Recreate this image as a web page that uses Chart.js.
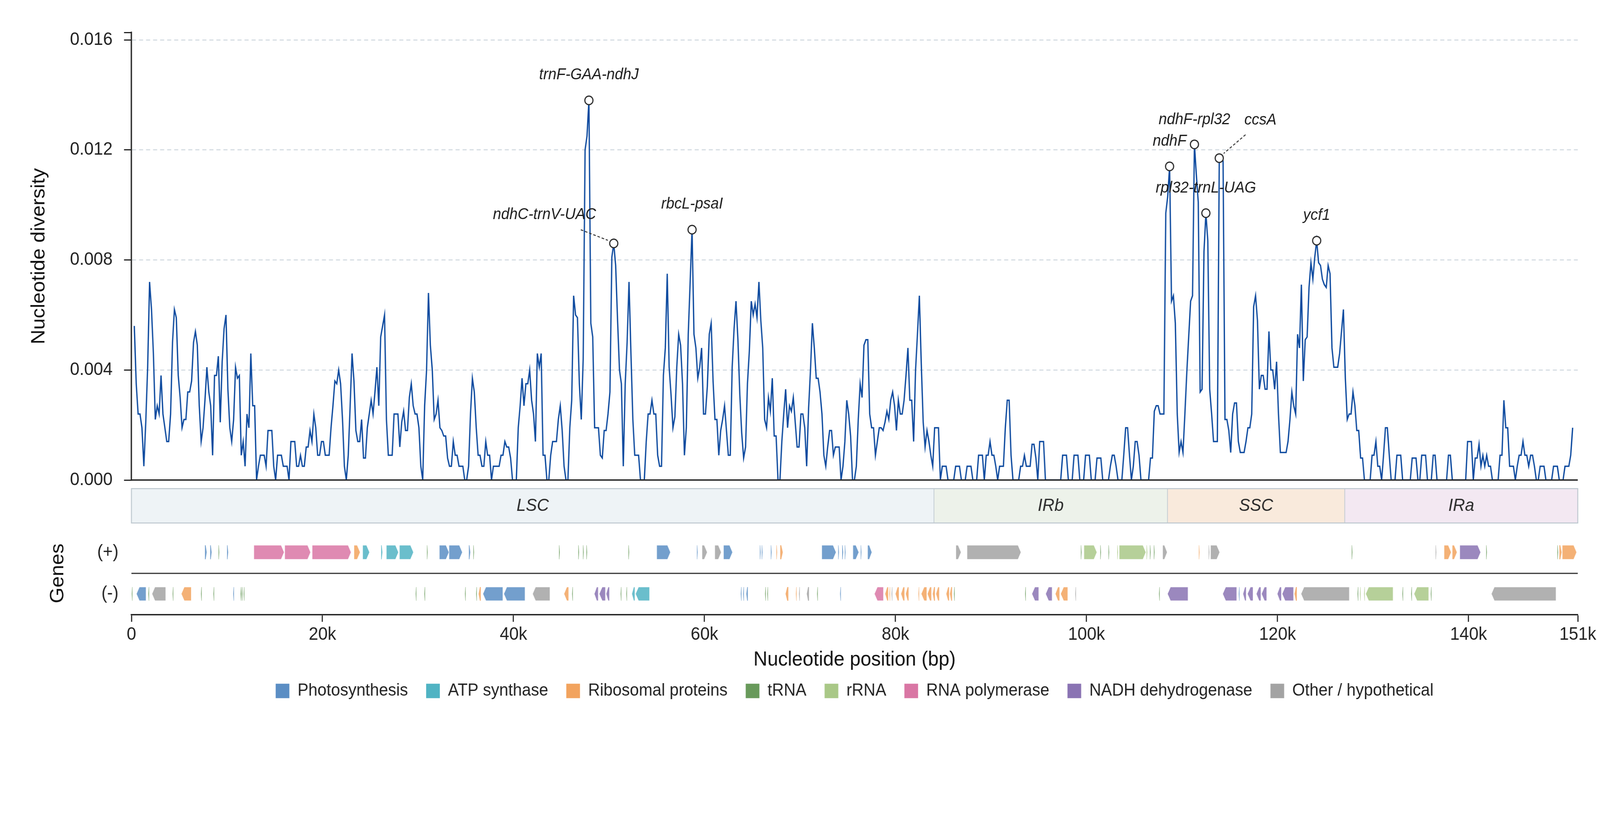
<!DOCTYPE html>
<html>
<head>
<meta charset="utf-8">
<title>Nucleotide diversity</title>
<style>
  html, body { margin: 0; padding: 0; background: #fff; overflow: hidden; }
</style>
<script src="https://cdn.jsdelivr.net/npm/chart.js@4.4.1/dist/chart.umd.min.js"></script>
</head>
<body>
<canvas id="chart" width="4322" height="2102" style="display:block;width:100vw;height:100vh"></canvas>
<script>
const FONT = "'Liberation Sans', Arial, Helvetica, sans-serif";
Chart.defaults.font.family = FONT;
Chart.defaults.color = '#222';

// sliding window: 600 bp window, 200 bp step, first midpoint at 300 bp
const windowMid0 = 300;
const windowStep = 200;

// nucleotide diversity (Pi) per window
const diversity = [
  .0056,.0035,.0024,.0024,.0019,.0005,.0021,.0041,.0072,.0062,
  .0046,.0022,.0027,.0024,.0038,.0024,.0019,.0014,.0014,.0024,
  .0050,.0062,.0059,.0038,.0030,.0019,.0022,.0022,.0032,.0032,
  .0036,.0050,.0054,.0049,.0027,.0014,.0019,.0029,.0041,.0032,
  .0027,.0009,.0038,.0038,.0045,.0021,.0043,.0055,.0060,.0033,
  .0019,.0014,.0022,.0041,.0037,.0038,.0009,.0014,.0005,.0024,
  .0019,.0046,.0027,.0027,0,.0005,.0009,.0009,.0009,.0005,
  .0018,.0018,.0018,.0005,0,.0009,.0009,.0009,.0005,.0005,
  .0005,0,.0014,.0014,.0014,.0005,.0005,.0009,.0005,.0005,
  .0012,.0012,.0018,.0014,.0024,.0019,.0009,.0009,.0014,.0014,
  .0009,.0009,.0009,.0019,.0027,.0036,.0035,.0040,.0035,.0022,
  .0005,0,.0009,.0027,.0046,.0036,.0018,.0014,.0014,.0022,
  .0008,.0008,.0019,.0024,.0029,.0024,.0032,.0041,.0027,.0052,
  .0056,.0060,.0022,.0009,.0009,.0009,.0024,.0024,.0024,.0012,
  .0021,.0025,.0018,.0018,.0030,.0035,.0027,.0024,.0024,.0019,
  .0005,0,.0027,.0040,.0068,.0049,.0040,.0022,.0024,.0029,
  .0019,.0018,.0016,.0016,.0008,.0005,.0005,.0014,.0009,.0009,
  .0005,.0005,.0005,0,0,.0005,.0024,.0037,.0032,.0019,
  .0009,.0009,.0005,.0005,.0014,.0009,.0009,0,.0005,.0005,
  .0005,.0005,.0009,.0009,.0014,.0012,.0012,.0008,0,0,
  0,.0019,.0027,.0037,.0027,.0035,.0035,.0040,.0029,.0024,
  .0014,.0046,.0041,.0046,.0009,.0009,0,0,.0009,.0014,
  .0014,.0014,.0022,.0027,.0018,.0005,0,0,.0019,.0029,
  .0067,.0060,.0059,.0035,.0022,.0044,.0120,.0125,.0138,.0057,
  .0052,.0019,.0019,.0019,.0009,.0008,.0018,.0018,.0024,.0032,
  .0081,.0086,.0078,.0058,.0040,.0035,.0005,.0035,.0050,.0072,
  .0046,.0022,.0009,.0009,.0009,0,0,0,.0014,.0024,
  .0024,.0029,.0024,.0024,.0009,.0005,.0005,.0038,.0048,.0075,
  .0041,.0031,.0019,.0023,.0041,.0053,.0049,.0035,.0009,.0019,
  .0053,.0072,.0091,.0053,.0048,.0037,.0041,.0048,.0024,.0024,
  .0034,.0053,.0057,.0036,.0022,.0022,.0009,.0018,.0022,.0027,
  .0018,.0009,.0009,.0041,.0055,.0065,.0051,.0031,.0017,.0008,
  .0012,.0035,.0047,.0065,.0060,.0064,.0059,.0072,.0058,.0048,
  .0022,.0019,.0030,.0025,.0037,.0016,.0016,0,0,.0014,
  .0024,.0033,.0019,.0027,.0025,.0030,.0021,.0012,.0012,.0024,
  .0024,.0019,.0005,.0026,.0040,.0057,.0048,.0037,.0037,.0032,
  .0024,.0009,.0005,.0012,.0018,.0018,.0009,.0012,.0012,.0012,
  0,.0005,.0014,.0029,.0024,.0016,0,0,.0005,.0022,
  .0035,.0030,.0049,.0051,.0051,.0024,.0019,.0019,.0009,.0014,
  .0019,.0019,.0018,.0021,.0025,.0022,.0029,.0032,.0027,.0018,
  .0029,.0024,.0024,.0029,.0038,.0048,.0029,.0029,.0014,.0040,
  .0053,.0067,.0042,.0021,.0012,.0018,.0014,.0009,.0005,.0019,
  .0019,.0019,0,.0005,.0005,.0005,0,0,0,0,
  .0005,.0005,.0005,0,0,0,.0005,.0005,.0005,0,
  0,0,.0009,.0009,.0009,0,.0009,.0009,.0014,.0009,
  .0009,.0005,0,.0005,.0005,.0005,.0019,.0029,.0029,.0009,
  0,0,0,0,.0005,.0005,.0009,.0005,.0005,.0005,
  .0013,.0013,.0008,0,.0014,.0014,.0014,0,0,0,
  0,0,0,0,0,0,.0009,.0009,.0009,0,
  0,0,.0009,.0009,.0009,0,0,0,.0009,.0009,
  .0009,0,0,0,.0008,.0008,.0008,0,0,0,
  0,.0005,.0009,.0009,.0005,0,0,0,.0009,.0019,
  .0019,.0009,0,.0005,.0014,.0014,.0009,0,0,0,
  0,0,.0008,.0008,.0025,.0027,.0027,.0024,.0024,.0024,
  .0097,.0103,.0114,.0065,.0067,.0057,.0024,.0010,.0014,.0010,
  .0024,.0039,.0052,.0065,.0067,.0122,.0111,.0101,.0032,.0033,
  .0083,.0097,.0087,.0033,.0024,.0014,.0014,.0014,.0117,.0117,
  .0116,.0022,.0022,.0018,.0010,.0024,.0028,.0028,.0014,.0010,
  .0010,.0010,.0014,.0019,.0019,.0024,.0063,.0067,.0058,.0033,
  .0038,.0038,.0033,.0033,.0054,.0040,.0040,.0033,.0043,.0024,
  .0010,.0010,.0010,.0010,.0014,.0022,.0032,.0027,.0024,.0053,
  .0048,.0071,.0036,.0051,.0052,.0070,.0079,.0073,.0081,.0087,
  .0079,.0078,.0073,.0071,.0070,.0078,.0075,.0048,.0041,.0041,
  .0041,.0046,.0054,.0062,.0037,.0022,.0024,.0024,.0032,.0027,
  .0018,.0018,.0008,.0008,0,0,0,0,.0009,.0009,
  .0014,.0005,.0005,0,.0009,.0019,.0019,.0009,0,0,
  0,.0009,.0009,.0009,0,0,0,0,0,.0008,
  .0008,.0008,0,0,.0009,.0009,.0009,0,0,0,
  .0009,.0009,0,0,0,0,0,0,.0009,.0009,
  0,0,0,0,0,0,0,0,.0014,.0014,
  .0014,0,.0008,.0008,.0013,.0005,.0009,.0005,.0009,.0005,
  .0005,0,0,0,0,.0009,.0009,.0029,.0019,.0019,
  .0005,.0005,.0005,0,.0005,.0009,.0009,.0014,.0009,.0009,
  .0005,.0009,.0009,.0005,0,0,.0005,.0005,.0005,0,
  0,0,0,.0005,.0005,.0005,0,0,0,.0005,
  .0005,.0005,.0009,.0019
];
const positions = diversity.map((_, i) => windowMid0 + i * windowStep);

const genomeLength = 151440;
const xTickValues = [0, 20000, 40000, 60000, 80000, 100000, 120000, 140000, 151440];
const xTickLabels = ['0', '20k', '40k', '60k', '80k', '100k', '120k', '140k', '151k'];
const yTickValues = [0, 0.004, 0.008, 0.012, 0.016];
const yTop = 0.01627;

// labelled hotspots (index into the window series)
const peakIndex = [238, 251, 292, 542, 555, 561, 568, 619];
const peakNames = ['trnF-GAA-ndhJ', 'ndhC-trnV-UAC', 'rbcL-psaI', 'ndhF', 'ndhF-rpl32', 'rpl32-trnL-UAG', 'ccsA', 'ycf1'];

// quadripartite regions
const regionNames = ['LSC', 'IRb', 'SSC', 'IRa'];
const regionStarts = [0, 84030, 108480, 127040];
const regionEnds = [84030, 108480, 127040, 151440];

// gene categories
const categoryKeys = ['ps', 'atp', 'rib', 'trna', 'rrna', 'rpo', 'ndh', 'oth'];
const categoryNames = ['Photosynthesis', 'ATP synthase', 'Ribosomal proteins', 'tRNA', 'rRNA', 'RNA polymerase', 'NADH dehydrogenase', 'Other / hypothetical'];

// genes on the (+) strand: [start, end, category]
const plusGenes = [
  [7700,7880,'ps'],[8250,8400,'ps'],[9120,9200,'trna'],[10010,10130,'ps'],
  [12820,15990,'rpo'],[16050,18760,'rpo'],[18920,23000,'rpo'],
  [23300,23950,'rib'],[24210,24930,'atp'],[26150,26280,'atp'],[26690,27960,'atp'],[28060,29530,'atp'],
  [30940,31010,'trna'],[32240,33250,'ps'],[33250,34650,'ps'],[35330,35480,'ps'],[35800,35870,'trna'],
  [44770,44840,'trna'],[46790,46860,'trna'],[47280,47350,'trna'],[47640,47710,'trna'],
  [52040,52110,'trna'],[55000,56440,'ps'],[59210,59290,'ps'],[59740,60290,'oth'],[61080,61760,'oth'],[61990,62940,'ps'],
  [65800,65880,'ps'],[66000,66080,'ps'],[66950,67030,'ps'],[67530,67610,'rib'],[67930,68200,'rib'],
  [72280,73780,'ps'],[74000,74080,'ps'],[74420,74520,'ps'],[74690,74760,'ps'],[75540,76160,'ps'],[76360,76430,'ps'],[77080,77530,'ps'],
  [86320,86870,'oth'],[87490,93140,'oth'],
  [99410,99480,'trna'],[99730,101090,'rrna'],[101440,101510,'trna'],[102300,102370,'trna'],[103220,103290,'rrna'],
  [103420,106220,'rrna'],[106290,106360,'rrna'],[106640,106710,'trna'],[107050,107120,'trna'],[107970,108450,'oth'],
  [111760,111830,'rib'],[112790,112860,'oth'],[112990,113950,'oth'],
  [127770,127840,'trna'],[136550,136620,'oth'],[137440,138190,'rib'],[138290,138800,'rib'],[139080,141270,'ndh'],
  [141850,141920,'trna'],[149300,149370,'trna'],[149510,149750,'rib'],[149810,151320,'rib']
];

// genes on the (-) strand: [start, end, category]
const minusGenes = [
  [30,100,'trna'],[520,1530,'ps'],[1770,1840,'trna'],[2150,3590,'oth'],[4310,4380,'trna'],[5220,6270,'rib'],
  [7280,7350,'trna'],[8580,8650,'trna'],[10660,10740,'ps'],[11420,11490,'trna'],[11550,11620,'trna'],[11750,11820,'trna'],
  [29760,29830,'trna'],[30670,30740,'trna'],[34920,34990,'trna'],[36090,36160,'trna'],[36350,36580,'rib'],
  [36800,38890,'ps'],[38990,41210,'ps'],[42000,43820,'oth'],[45290,45780,'rib'],[46140,46210,'trna'],
  [48460,48880,'ndh'],[48980,49630,'ndh'],[49700,50050,'ndh'],
  [51220,51290,'trna'],[51810,51880,'trna'],[52390,52720,'atp'],[52780,54250,'atp'],
  [63800,63880,'ps'],[64050,64130,'ps'],[64380,64540,'ps'],
  [66340,66410,'trna'],[66570,66640,'trna'],[68490,68780,'rib'],[69570,69640,'rib'],[69900,69980,'oth'],[70710,70940,'oth'],
  [71790,71860,'trna'],[74200,74280,'ps'],
  [77790,78740,'rpo'],[78900,79260,'rib'],[79360,79430,'rib'],[79590,79660,'oth'],[79980,80370,'rib'],[80570,80960,'rib'],
  [81060,81390,'rib'],[82400,82470,'rib'],[82690,83280,'rib'],[83340,83770,'rib'],[83900,84130,'rib'],[84230,84590,'rib'],
  [85300,85630,'rib'],[85700,85920,'rib'],[86120,86190,'trna'],
  [93570,93640,'trna'],[94280,95000,'ndh'],[95720,96400,'ndh'],[96730,97190,'rib'],[97290,98040,'rib'],[98820,98890,'oth'],
  [107590,107660,'trna'],[108480,110630,'ndh'],[114260,115730,'ndh'],[115940,116010,'ps'],[116380,116720,'ndh'],
  [116850,117440,'ndh'],[117780,118260,'ndh'],[118320,118870,'ndh'],[119970,120410,'ndh'],[120480,121680,'ndh'],
  [121780,122020,'rib'],[122460,127520,'oth'],
  [128380,128450,'trna'],[128620,128690,'rrna'],[129060,129130,'rrna'],[129230,132100,'rrna'],[133070,133140,'trna'],
  [133990,134060,'trna'],[134290,135830,'rrna'],[136040,136110,'trna'],[142390,149160,'oth']
];

// ---- styles ----
const categoryColors = {
  ps: '#5b8ec4', atp: '#50b3c3', rib: '#f2a35e', trna: '#689a5b',
  rrna: '#a9c887', rpo: '#d976a4', ndh: '#8a73b3', oth: '#a3a3a3'
};
const regionFills = ['#eef3f6', '#edf2ea', '#f9eadc', '#f3e8f2'];

// track layout, in px below the zero line
const TRACK = { regionTop: 22, regionBottom: 110, plusTop: 167, plusBottom: 203, divider: 239, minusTop: 274, minusBottom: 309 };

// label placement relative to its marker, px
const labelOffsets = [[0, -65], [-187, -73], [0, -65], [0, -64], [0, -63], [0, -64], [111, -97], [0, -64]];
const leaderLines = { 1: [[-89, -35], [-16, -8]], 6: [[71, -60], [12, -12]] };

function geneShape(ctx, a, b, top, bottom, dir) {
  const w = b - a;
  const head = Math.min(8, w * 0.6);
  const mid = (top + bottom) / 2;
  ctx.beginPath();
  if (dir > 0) {
    ctx.moveTo(a, top); ctx.lineTo(b - head, top); ctx.lineTo(b, mid);
    ctx.lineTo(b - head, bottom); ctx.lineTo(a, bottom);
  } else {
    ctx.moveTo(b, top); ctx.lineTo(a + head, top); ctx.lineTo(a, mid);
    ctx.lineTo(a + head, bottom); ctx.lineTo(b, bottom);
  }
  ctx.closePath();
  ctx.fill();
  if (w > 8) ctx.stroke();
}

const trackPlugin = {
  id: 'tracks',
  afterDatasetsDraw(chart) {
    const {ctx, scales} = chart;
    const x = scales.x, t = scales.track, y = scales.y;
    const left = x.getPixelForValue(0), right = x.getPixelForValue(genomeLength);
    ctx.save();

    // zero line of the diversity panel
    const y0 = y.getPixelForValue(0);
    ctx.strokeStyle = '#222';
    ctx.lineWidth = 3.5;
    ctx.beginPath(); ctx.moveTo(left - 2, y0); ctx.lineTo(right, y0); ctx.stroke();

    // region bar
    const rTop = t.getPixelForValue(TRACK.regionTop), rBot = t.getPixelForValue(TRACK.regionBottom);
    regionNames.forEach((name, i) => {
      const a = x.getPixelForValue(regionStarts[i]), b = x.getPixelForValue(regionEnds[i]);
      ctx.fillStyle = regionFills[i];
      ctx.fillRect(a, rTop, b - a, rBot - rTop);
      if (i > 0) {
        ctx.strokeStyle = '#c3ccd3'; ctx.lineWidth = 2;
        ctx.beginPath(); ctx.moveTo(a, rTop); ctx.lineTo(a, rBot); ctx.stroke();
      }
      ctx.fillStyle = '#2b2b2b';
      ctx.font = `italic 45px ${FONT}`;
      ctx.textAlign = 'center'; ctx.textBaseline = 'middle';
      ctx.fillText(name, (a + b) / 2, (rTop + rBot) / 2);
    });
    ctx.strokeStyle = '#bcc6ce'; ctx.lineWidth = 2.5;
    ctx.strokeRect(left, rTop, right - left, rBot - rTop);

    // strand divider
    const dv = t.getPixelForValue(TRACK.divider);
    ctx.strokeStyle = '#333'; ctx.lineWidth = 3;
    ctx.beginPath(); ctx.moveTo(left, dv); ctx.lineTo(right, dv); ctx.stroke();

    // genes
    ctx.globalAlpha = 0.85;
    ctx.strokeStyle = '#ffffff'; ctx.lineWidth = 1.2;
    const rows = [[plusGenes, TRACK.plusTop, TRACK.plusBottom, 1], [minusGenes, TRACK.minusTop, TRACK.minusBottom, -1]];
    rows.forEach(([genes, gt, gb, dir]) => {
      const top = t.getPixelForValue(gt), bottom = t.getPixelForValue(gb);
      genes.forEach(([s, e, cat]) => {
        const a = x.getPixelForValue(s);
        const b = Math.max(x.getPixelForValue(e), a + 2);
        ctx.fillStyle = categoryColors[cat];
        geneShape(ctx, a, b, top, bottom, dir);
      });
    });
    ctx.globalAlpha = 1;

    // track title
    ctx.save();
    ctx.translate(157, dv);
    ctx.rotate(-Math.PI / 2);
    ctx.fillStyle = '#111';
    ctx.font = `52px ${FONT}`;
    ctx.textAlign = 'center'; ctx.textBaseline = 'middle';
    ctx.fillText('Genes', 0, 0);
    ctx.restore();

    ctx.restore();
  }
};

const peakLabelPlugin = {
  id: 'peakLabels',
  afterDatasetsDraw(chart) {
    const {ctx} = chart;
    const meta = chart.getDatasetMeta(0);
    ctx.save();
    ctx.font = `italic 40px ${FONT}`;
    ctx.fillStyle = '#1c1c1c';
    ctx.textAlign = 'center'; ctx.textBaseline = 'middle';
    meta.data.forEach((pt, i) => {
      const [dx, dy] = labelOffsets[i];
      ctx.fillText(peakNames[i], pt.x + dx, pt.y + dy);
      const lead = leaderLines[i];
      if (lead) {
        ctx.save();
        ctx.setLineDash([7, 5]);
        ctx.lineWidth = 2.5;
        ctx.strokeStyle = '#333';
        ctx.beginPath();
        ctx.moveTo(pt.x + lead[0][0], pt.y + lead[0][1]);
        ctx.lineTo(pt.x + lead[1][0], pt.y + lead[1][1]);
        ctx.stroke();
        ctx.restore();
      }
    });
    ctx.restore();
  }
};

new Chart(document.getElementById('chart'), {
  type: 'line',
  data: {
    datasets: [
      {
        label: 'hotspots',
        data: peakIndex.map(i => ({x: positions[i], y: diversity[i]})),
        showLine: false,
        pointRadius: 11,
        pointBackgroundColor: '#ffffff',
        pointBorderColor: '#2a2a2a',
        pointBorderWidth: 3,
        order: 0,
        yAxisID: 'y'
      },
      {
        label: 'Pi',
        data: positions.map((p, i) => ({x: p, y: diversity[i]})),
        borderColor: '#0d4a9f',
        borderWidth: 3.5,
        pointRadius: 0,
        tension: 0,
        fill: false,
        order: 1,
        yAxisID: 'y'
      }
    ]
  },
  options: {
    responsive: false,
    devicePixelRatio: 1,
    animation: false,
    events: [],
    layout: { padding: { top: 83, right: 60, bottom: 301, left: 0 } },
    plugins: {
      tooltip: { enabled: false },
      legend: {
        position: 'bottom',
        fullSize: false,
        labels: {
          boxWidth: 37,
          boxHeight: 37,
          padding: 49,
          color: '#222',
          font: { size: 44 },
          generateLabels: () => categoryNames.map((name, i) => ({
            text: name,
            fillStyle: categoryColors[categoryKeys[i]],
            strokeStyle: 'rgba(0,0,0,0)',
            lineWidth: 0,
            hidden: false,
            fontColor: '#222'
          }))
        }
      }
    },
    scales: {
      x: {
        type: 'linear',
        min: 0,
        max: genomeLength,
        afterBuildTicks: s => { s.ticks = xTickValues.map(v => ({value: v})); },
        afterFit: s => { s.height = 124; },
        ticks: {
          autoSkip: false,
          maxRotation: 0,
          padding: 6,
          font: { size: 46 },
          color: '#222',
          callback: (v, i) => xTickLabels[i]
        },
        grid: { drawOnChartArea: false, tickLength: 18, tickWidth: 3, tickColor: '#222' },
        border: { color: '#222', width: 3.5 },
        title: {
          display: true,
          text: 'Nucleotide position (bp)',
          font: { size: 52 },
          color: '#111',
          padding: { top: 0, bottom: -23 }
        }
      },
      y: {
        type: 'linear',
        position: 'left',
        stack: 'left',
        stackWeight: 1146,
        weight: 2,
        min: 0,
        max: yTop,
        afterBuildTicks: s => { s.ticks = yTickValues.concat([yTop]).map(v => ({value: v})); },
        afterFit: s => { s.width = 355; },
        ticks: {
          autoSkip: false,
          padding: 31,
          font: { size: 46 },
          color: '#222',
          callback: v => (v >= yTop - 1e-9 ? '' : v.toFixed(3))
        },
        grid: {
          color: c => (c.tick && c.tick.value > 1e-9 && c.tick.value < yTop - 1e-9) ? '#d6dde3' : 'rgba(0,0,0,0)',
          lineWidth: 3,
          tickLength: 20,
          tickWidth: 3,
          tickColor: '#222'
        },
        border: { color: '#222', width: 3.5, dash: [11, 8] },
        title: {
          display: true,
          text: 'Nucleotide diversity',
          font: { size: 52 },
          color: '#111',
          padding: { top: 74, bottom: 0 }
        }
      },
      track: {
        type: 'linear',
        position: 'left',
        stack: 'left',
        stackWeight: 345,
        weight: 1,
        min: 0,
        max: 345,
        reverse: true,
        afterBuildTicks: s => { s.ticks = [{value: 185}, {value: 291}]; },
        afterFit: s => { s.width = 355; },
        ticks: {
          autoSkip: false,
          padding: 35,
          font: { size: 46 },
          color: '#222',
          callback: (v, i) => ['(+)', '(-)'][i]
        },
        grid: { display: false, drawTicks: false },
        border: { display: false }
      }
    }
  },
  plugins: [trackPlugin, peakLabelPlugin]
});
</script>
</body>
</html>
